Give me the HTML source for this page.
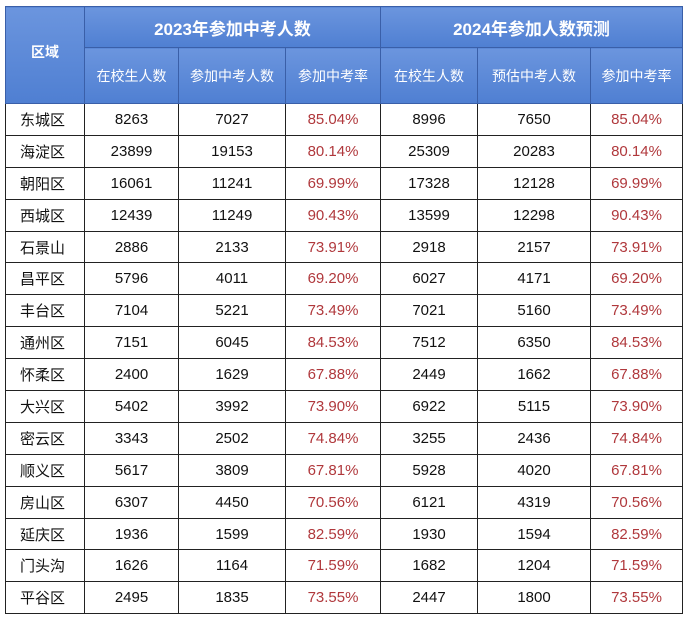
<!DOCTYPE html>
<html><head><meta charset="utf-8"><style>
body{margin:0;width:685px;height:617px;background:#fff;overflow:hidden;font-family:"Liberation Sans","Noto Sans CJK SC",sans-serif;}
table{position:absolute;left:5px;top:6px;border-collapse:collapse;table-layout:fixed;}
td,th{border:1.5px solid #222;text-align:center;padding:0;font-size:15px;color:#111;}
th{background:linear-gradient(#6b95de,#4f7fd2);color:#fff;border-color:#3a5fa8;font-weight:normal;font-size:14px;}
th.big{font-size:17px;font-weight:bold;height:40px;}
th.sub{height:55px;}
td{height:30.9px;}
td.r{color:#b0383c;}
td.n{text-align:left;padding-left:14px;}
</style></head><body>
<table>
<colgroup><col style="width:79px"><col style="width:94px"><col style="width:107px"><col style="width:95px"><col style="width:97px"><col style="width:113px"><col style="width:92px"></colgroup>
<tr><th rowspan="2" style="font-weight:bold;padding-bottom:6px">区域</th><th colspan="3" class="big">2023年参加中考人数</th><th colspan="3" class="big">2024年参加人数预测</th></tr>
<tr><th class="sub">在校生人数</th><th class="sub">参加中考人数</th><th class="sub">参加中考率</th><th class="sub">在校生人数</th><th class="sub">预估中考人数</th><th class="sub">参加中考率</th></tr>
<tr><td class="n">东城区</td><td>8263</td><td>7027</td><td class="r">85.04%</td><td>8996</td><td>7650</td><td class="r">85.04%</td></tr>
<tr><td class="n">海淀区</td><td>23899</td><td>19153</td><td class="r">80.14%</td><td>25309</td><td>20283</td><td class="r">80.14%</td></tr>
<tr><td class="n">朝阳区</td><td>16061</td><td>11241</td><td class="r">69.99%</td><td>17328</td><td>12128</td><td class="r">69.99%</td></tr>
<tr><td class="n">西城区</td><td>12439</td><td>11249</td><td class="r">90.43%</td><td>13599</td><td>12298</td><td class="r">90.43%</td></tr>
<tr><td class="n">石景山</td><td>2886</td><td>2133</td><td class="r">73.91%</td><td>2918</td><td>2157</td><td class="r">73.91%</td></tr>
<tr><td class="n">昌平区</td><td>5796</td><td>4011</td><td class="r">69.20%</td><td>6027</td><td>4171</td><td class="r">69.20%</td></tr>
<tr><td class="n">丰台区</td><td>7104</td><td>5221</td><td class="r">73.49%</td><td>7021</td><td>5160</td><td class="r">73.49%</td></tr>
<tr><td class="n">通州区</td><td>7151</td><td>6045</td><td class="r">84.53%</td><td>7512</td><td>6350</td><td class="r">84.53%</td></tr>
<tr><td class="n">怀柔区</td><td>2400</td><td>1629</td><td class="r">67.88%</td><td>2449</td><td>1662</td><td class="r">67.88%</td></tr>
<tr><td class="n">大兴区</td><td>5402</td><td>3992</td><td class="r">73.90%</td><td>6922</td><td>5115</td><td class="r">73.90%</td></tr>
<tr><td class="n">密云区</td><td>3343</td><td>2502</td><td class="r">74.84%</td><td>3255</td><td>2436</td><td class="r">74.84%</td></tr>
<tr><td class="n">顺义区</td><td>5617</td><td>3809</td><td class="r">67.81%</td><td>5928</td><td>4020</td><td class="r">67.81%</td></tr>
<tr><td class="n">房山区</td><td>6307</td><td>4450</td><td class="r">70.56%</td><td>6121</td><td>4319</td><td class="r">70.56%</td></tr>
<tr><td class="n">延庆区</td><td>1936</td><td>1599</td><td class="r">82.59%</td><td>1930</td><td>1594</td><td class="r">82.59%</td></tr>
<tr><td class="n">门头沟</td><td>1626</td><td>1164</td><td class="r">71.59%</td><td>1682</td><td>1204</td><td class="r">71.59%</td></tr>
<tr><td class="n">平谷区</td><td>2495</td><td>1835</td><td class="r">73.55%</td><td>2447</td><td>1800</td><td class="r">73.55%</td></tr>
</table>
</body></html>
